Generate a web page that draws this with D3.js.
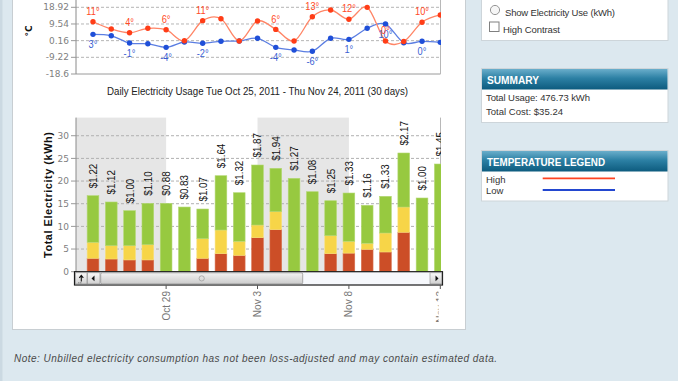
<!DOCTYPE html>
<html><head><meta charset="utf-8">
<script src="https://cdn.jsdelivr.net/npm/d3@7"></script>
<style>html,body{margin:0;padding:0;background:#dce8ef;overflow:hidden}</style>
</head><body><svg id="c" width="678" height="381"></svg>
<script>
// ---------- data ----------
const dates = ["Oct 25","Oct 26","Oct 27","Oct 28","Oct 29","Oct 30","Oct 31","Nov 1","Nov 2","Nov 3",
               "Nov 4","Nov 5","Nov 6","Nov 7","Nov 8","Nov 9","Nov 10","Nov 11","Nov 12","Nov 13"];
const onPeak  = [2.96,2.80,2.60,2.60,0,0,2.96,3.97,3.60,7.50,9.27,0,0,3.97,4.10,4.94,4.35,8.70,0,0];
const midPeak = [3.53,2.94,3.14,3.36,0,0,4.32,5.23,3.11,2.80,3.97,0,0,3.97,2.61,1.33,4.19,5.57,0,0];
const offPeak = [10.28,9.64,7.72,9.13,15.09,14.27,6.55,11.98,10.72,13.24,9.57,20.60,17.65,7.72,10.65,8.38,8.09,11.92,16.26,23.76];
const costs = ["$1.22","$1.12","$1.00","$1.10","$0.88","$0.83","$1.07","$1.64","$1.32","$1.87",
               "$1.94","$1.27","$1.08","$1.25","$1.33","$1.16","$1.33","$2.17","$1.00","$1.45"];
const highTemp = [10.8,6.7,4.6,7.1,6.3,0.1,11.4,12.5,0,11.2,6.5,0,13.6,17.4,12.2,18.9,0,-0.3,10.5,14.6];
const lowTemp  = [3.7,2.9,-1.2,-1.6,-3.6,-0.6,-1.3,-0.2,0,1.5,-3.6,-5.1,-5.8,1.5,0.9,7.1,9.5,-1.0,-0.2,-0.8];
const highLabels = ["11°",null,"4°",null,"6°",null,"11°",null,null,null,"6°",null,"13°",null,"12°",null,"0°",null,"10°",null];
const lowLabels  = ["3°",null,"-1°",null,"-4°",null,"-2°",null,null,null,"-4°",null,"-6°",null,"1°",null,"10°",null,"0°",null];
const tempTicks = [-18.6,-9.22,0.16,9.54,18.92];
const kwhTicks = [0,5,10,15,20,25,30];
const dateTicks = ["Oct 29","Nov 3","Nov 8","Nov 13"];
const bandRanges = [[null,"Oct 29"],["Nov 3","Nov 8"]];
const titleText = "Daily Electricity Usage Tue Oct 25, 2011 - Thu Nov 24, 2011 (30 days)";

// ---------- setup ----------
const svg = d3.select("#c");
const defs = svg.append("defs");
const hg = defs.append("linearGradient").attr("id","hdr").attr("x1",0).attr("y1",0).attr("x2",0).attr("y2",1);
hg.append("stop").attr("offset","0%").attr("stop-color","#6aaecb");
hg.append("stop").attr("offset","45%").attr("stop-color","#2c80a4");
hg.append("stop").attr("offset","100%").attr("stop-color","#0d5b7e");
const bg = defs.append("linearGradient").attr("id","btn").attr("x1",0).attr("y1",0).attr("x2",0).attr("y2",1);
bg.append("stop").attr("offset","0%").attr("stop-color","#fafafa");
bg.append("stop").attr("offset","100%").attr("stop-color","#cfcfcf");
const tg = defs.append("linearGradient").attr("id","thumb").attr("x1",0).attr("y1",0).attr("x2",0).attr("y2",1);
tg.append("stop").attr("offset","0%").attr("stop-color","#f3f3f3");
tg.append("stop").attr("offset","100%").attr("stop-color","#cbcbcb");
defs.append("clipPath").attr("id","plotclip").append("rect").attr("x",76).attr("y",100).attr("width",365).attr("height",172);
defs.append("clipPath").attr("id","tempclip").append("rect").attr("x",76).attr("y",-10).attr("width",365).attr("height",84);
defs.append("clipPath").attr("id","xlabclip").append("rect").attr("x",0).attr("y",286).attr("width",438.6).attr("height",60);

function condense(sel, f){
  sel.each(function(){ const w = this.getComputedTextLength(); d3.select(this).attr("textLength", w*f).attr("lengthAdjust","spacingAndGlyphs"); });
}

svg.append("rect").attr("width",678).attr("height",381).attr("fill","#dce8ef");
svg.append("rect").attr("x",0).attr("y",0).attr("width",2.5).attr("height",381).attr("fill","#cbd9e2");
svg.append("rect").attr("x",12.5).attr("y",-10).attr("width",453).attr("height",339.5)
  .attr("fill","#fff").attr("stroke","#c8ced2");

const x = d3.scalePoint().domain(dates).range([93, 440.3]);
const bw = x.step()*0.64;
const L = 76, R = 440.5;

// ---------- temperature chart ----------
const yT = d3.scaleLinear().domain([-18.6, 18.92]).range([74, 7.3]);
const tG = svg.append("g");
tG.selectAll("line.tg").data(tempTicks.slice(1)).join("line")
  .attr("x1",L).attr("x2",R).attr("y1",d=>yT(d)).attr("y2",d=>yT(d))
  .attr("stroke","#b5b5b5").attr("stroke-dasharray","3,2");
tG.append("line").attr("x1",L).attr("x2",R).attr("y1",yT(-18.6)).attr("y2",yT(-18.6)).attr("stroke","#9a9a9a");
tG.append("line").attr("x1",L).attr("x2",L).attr("y1",-5).attr("y2",yT(-18.6)).attr("stroke","#8a8a8a");
tG.append("line").attr("x1",R).attr("x2",R).attr("y1",-5).attr("y2",yT(-18.6)).attr("stroke","#b8b8b8");
tG.selectAll("line.tt").data(tempTicks).join("line")
  .attr("x1",71).attr("x2",L).attr("y1",d=>yT(d)).attr("y2",d=>yT(d)).attr("stroke","#999");
tG.selectAll("text.tl").data(tempTicks).join("text")
  .attr("x",69).attr("y",d=>yT(d)).attr("dy","0.35em").attr("text-anchor","end")
  .attr("font-family","DejaVu Sans").attr("font-size",9).attr("fill","#808080")
  .text(d=>d);
svg.append("text").attr("transform","translate(32,31) rotate(-90)").attr("text-anchor","middle")
  .attr("font-family","DejaVu Sans").attr("font-size",9).attr("font-weight","bold").attr("fill","#111").text("°C");

const tline = d3.line().x((d,i)=>x(dates[i])).y(d=>yT(d)).curve(d3.curveCardinal.tension(0));
const tc = svg.append("g").attr("clip-path","url(#tempclip)");
tc.append("path").attr("d",tline(lowTemp)).attr("fill","none").attr("stroke","#5b7ee2").attr("stroke-width",1.3);
tc.selectAll("circle.lo").data(lowTemp).join("circle")
  .attr("cx",(d,i)=>x(dates[i])).attr("cy",d=>yT(d)).attr("r",2.7).attr("fill","#1f4fd8");
tc.append("path").attr("d",tline(highTemp)).attr("fill","none").attr("stroke","#ff8566").attr("stroke-width",1.3);
tc.selectAll("circle.hi").data(highTemp).join("circle")
  .attr("cx",(d,i)=>x(dates[i])).attr("cy",d=>yT(d)).attr("r",2.7).attr("fill","#ff3d17");

const labFont = "'Liberation Sans',Arial,sans-serif";
const tl = svg.append("g");
dates.forEach((dt,i)=>{
  if (lowLabels[i]) tl.append("text").attr("x",x(dt)).attr("y",yT(lowTemp[i])+14)
    .attr("text-anchor","middle").attr("font-family",labFont).attr("font-size",11).attr("fill","#3b5fd3").text(lowLabels[i]);
  if (highLabels[i]) tl.append("text").attr("x",x(dt)).attr("y",yT(highTemp[i])-6.8)
    .attr("text-anchor","middle").attr("font-family",labFont).attr("font-size",11).attr("fill","#ff4a26").text(highLabels[i]);
});
condense(tl.selectAll("text"), 0.84);

// ---------- title ----------
svg.append("text").attr("x",257.5).attr("y",95).attr("text-anchor","middle")
  .attr("font-family",labFont).attr("font-size",11).attr("fill","#222")
  .attr("textLength",301).attr("lengthAdjust","spacingAndGlyphs").text(titleText);

// ---------- bar chart ----------
const yK = d3.scaleLinear().domain([0,34]).range([271.7,117.6]);
const bG = svg.append("g");
bandRanges.forEach(([a,b])=>{
  const x0 = a===null ? L : x(a), x1 = x(b);
  bG.append("rect").attr("x",x0).attr("y",yK(34)).attr("width",x1-x0).attr("height",yK(0)-yK(34)).attr("fill","#e6e6e6");
});
bG.selectAll("line.kg").data(kwhTicks.slice(1)).join("line")
  .attr("x1",L).attr("x2",R).attr("y1",d=>yK(d)).attr("y2",d=>yK(d))
  .attr("stroke","#b0b0b0").attr("stroke-dasharray","3,2");
bG.append("line").attr("x1",L).attr("x2",L).attr("y1",yK(34)).attr("y2",yK(0)).attr("stroke","#8a8a8a");
bG.append("line").attr("x1",R).attr("x2",R).attr("y1",yK(34)).attr("y2",yK(0)).attr("stroke","#b8b8b8");
bG.selectAll("line.kt").data(kwhTicks).join("line")
  .attr("x1",71).attr("x2",L).attr("y1",d=>yK(d)).attr("y2",d=>yK(d)).attr("stroke","#999");
bG.selectAll("text.kl").data(kwhTicks).join("text")
  .attr("x",69).attr("y",d=>yK(d)).attr("dy","0.35em").attr("text-anchor","end")
  .attr("font-family","DejaVu Sans").attr("font-size",9).attr("fill","#808080").text(d=>d);
svg.append("text").attr("transform","translate(52,195) rotate(-90)").attr("text-anchor","middle")
  .attr("font-family","'Liberation Sans',sans-serif").attr("font-size",11).attr("font-weight","bold").attr("fill","#111")
  .attr("textLength",126).text("Total Electricity (kWh)");

const table = dates.map((d,i)=>({date:d, on:onPeak[i], mid:midPeak[i], off:offPeak[i]}));
const series = d3.stack().keys(["on","mid","off"])(table);
const colors = {on:"#cc4e27", mid:"#f7d548", off:"#97c940"};
const edge = {on:"#d8714f", mid:"#f9e07a", off:"#b3d873"};
const bars = svg.append("g").attr("clip-path","url(#plotclip)");
series.forEach(s=>{
  bars.selectAll(null).data(s.filter(d=>d[1]-d[0]>0)).join("rect")
    .attr("x",d=>x(d.data.date)-bw/2).attr("y",d=>yK(d[1]))
    .attr("width",bw).attr("height",d=>yK(d[0])-yK(d[1]))
    .attr("fill",colors[s.key]).attr("stroke",edge[s.key]).attr("stroke-width",0.6);
});
table.forEach((d,i)=>{
  const tot = d.on+d.mid+d.off;
  bars.append("text").attr("transform",`translate(${x(d.date)},${yK(tot)-7.5}) rotate(-90)`)
    .attr("dy","0.36em").attr("text-anchor","start")
    .attr("font-family",labFont).attr("font-size",11).attr("fill","#111")
    .attr("textLength",24.5).attr("lengthAdjust","spacingAndGlyphs").text(costs[i]);
});

// ---------- scrollbar ----------
const sb = svg.append("g");
sb.append("rect").attr("x",74.5).attr("y",271.7).attr("width",368).attr("height",13.3)
  .attr("fill","#f6f8fc").attr("stroke","#1a1a1a").attr("stroke-width",1.2);
sb.append("rect").attr("x",75.5).attr("y",272.8).attr("width",11.5).attr("height",11.2).attr("fill","url(#btn)").attr("stroke","#888").attr("stroke-width",0.6);
sb.append("path").attr("d","M81.3,281.5 V276 M79.3,277.8 L81.3,275.3 L83.3,277.8").attr("fill","none").attr("stroke","#111").attr("stroke-width",1.1);
sb.append("path").attr("d","M78.3,282.8 h1 M80.3,282.8 h1").attr("stroke","#444").attr("stroke-width",0.8);
sb.append("rect").attr("x",87.5).attr("y",272.8).attr("width",12.5).attr("height",11.2).attr("fill","url(#btn)").attr("stroke","#888").attr("stroke-width",0.6);
sb.append("path").attr("d","M91.5,278.4 L94.5,275.6 L94.5,281.2 Z").attr("fill","#111");
sb.append("rect").attr("x",100.7).attr("y",272.8).attr("width",202).attr("height",11.2).attr("rx",1.5)
  .attr("fill","url(#thumb)").attr("stroke","#8a8a8a").attr("stroke-width",0.7);
sb.append("circle").attr("cx",201.7).attr("cy",278.4).attr("r",2.6).attr("fill","none").attr("stroke","#a0a0a0").attr("stroke-width",0.8);
sb.append("rect").attr("x",430).attr("y",272.8).attr("width",11.8).attr("height",11.2).attr("fill","url(#btn)").attr("stroke","#888").attr("stroke-width",0.6);
sb.append("path").attr("d","M438.5,278.4 L435.5,275.6 L435.5,281.2 Z").attr("fill","#111");

svg.selectAll("line.xt").data(dateTicks).join("line")
  .attr("x1",d=>x(d)).attr("x2",d=>x(d)).attr("y1",285.2).attr("y2",289).attr("stroke","#555");
const xl = svg.append("g").attr("clip-path","url(#xlabclip)");
xl.selectAll("text").data(dateTicks).join("text")
  .attr("transform",d=>`translate(${x(d)},291) rotate(-90)`).attr("dy","0.35em").attr("text-anchor","end")
  .attr("font-family","'Liberation Sans',sans-serif").attr("font-size",10).attr("fill","#777").text(d=>d);

// ---------- note ----------
svg.append("text").attr("x",14).attr("y",361.5).attr("font-family","'Liberation Sans',sans-serif")
  .attr("font-size",10).attr("font-style","italic").attr("fill","#4a4a4a").attr("textLength",483)
  .text("Note: Unbilled electricity consumption has not been loss-adjusted and may contain estimated data.");

// ---------- right panels ----------
const pf = "'Liberation Sans',Arial,sans-serif";
svg.append("rect").attr("x",481.5).attr("y",-5).attr("width",186.5).attr("height",45.5).attr("fill","#fff").attr("stroke","#cdd5da");
svg.append("circle").attr("cx",495).attr("cy",10).attr("r",4.6).attr("fill","#f6f6f6").attr("stroke","#8a8a8a").attr("stroke-width",0.9);
svg.append("text").attr("x",505).attr("y",16).attr("font-family",pf).attr("font-size",9.5).attr("fill","#333")
  .attr("textLength",110).text("Show Electricity Use (kWh)");
svg.append("rect").attr("x",489.5).attr("y",22).attr("width",9.5).attr("height",9.5).attr("fill","#fff").attr("stroke","#808080");
svg.append("text").attr("x",503).attr("y",33).attr("font-family",pf).attr("font-size",9.5).attr("fill","#333")
  .attr("textLength",57).text("High Contrast");

function panel(y0, h, title, tlen){
  svg.append("rect").attr("x",481.5).attr("y",y0).attr("width",186.5).attr("height",h).attr("fill","#fff").attr("stroke","#cdd5da");
  svg.append("rect").attr("x",482).attr("y",y0+0.5).attr("width",185.5).attr("height",20.5).attr("fill","url(#hdr)");
  svg.append("text").attr("x",487).attr("y",y0+15.5).attr("font-family",pf).attr("font-size",11).attr("font-weight","bold")
    .attr("fill","#fff").attr("textLength",tlen).attr("lengthAdjust","spacingAndGlyphs").text(title);
}
panel(68.5, 54, "SUMMARY", 52);
svg.append("text").attr("x",486).attr("y",100.5).attr("font-family",pf).attr("font-size",9.5).attr("fill","#333")
  .attr("textLength",104).text("Total Usage: 476.73 kWh");
svg.append("text").attr("x",486).attr("y",115.3).attr("font-family",pf).attr("font-size",9.5).attr("fill","#333")
  .attr("textLength",77).text("Total Cost: $35.24");
panel(150.5, 50.5, "TEMPERATURE LEGEND", 118);
svg.append("text").attr("x",486).attr("y",182.5).attr("font-family",pf).attr("font-size",9.5).attr("fill","#333").text("High");
svg.append("text").attr("x",486).attr("y",194.2).attr("font-family",pf).attr("font-size",9.5).attr("fill","#333").text("Low");
svg.append("line").attr("x1",542.7).attr("x2",615).attr("y1",178.3).attr("y2",178.3).attr("stroke","#ff4422").attr("stroke-width",1.8);
svg.append("line").attr("x1",542.7).attr("x2",615).attr("y1",190).attr("y2",190).attr("stroke","#2347d0").attr("stroke-width",1.8);
</script></body></html>
